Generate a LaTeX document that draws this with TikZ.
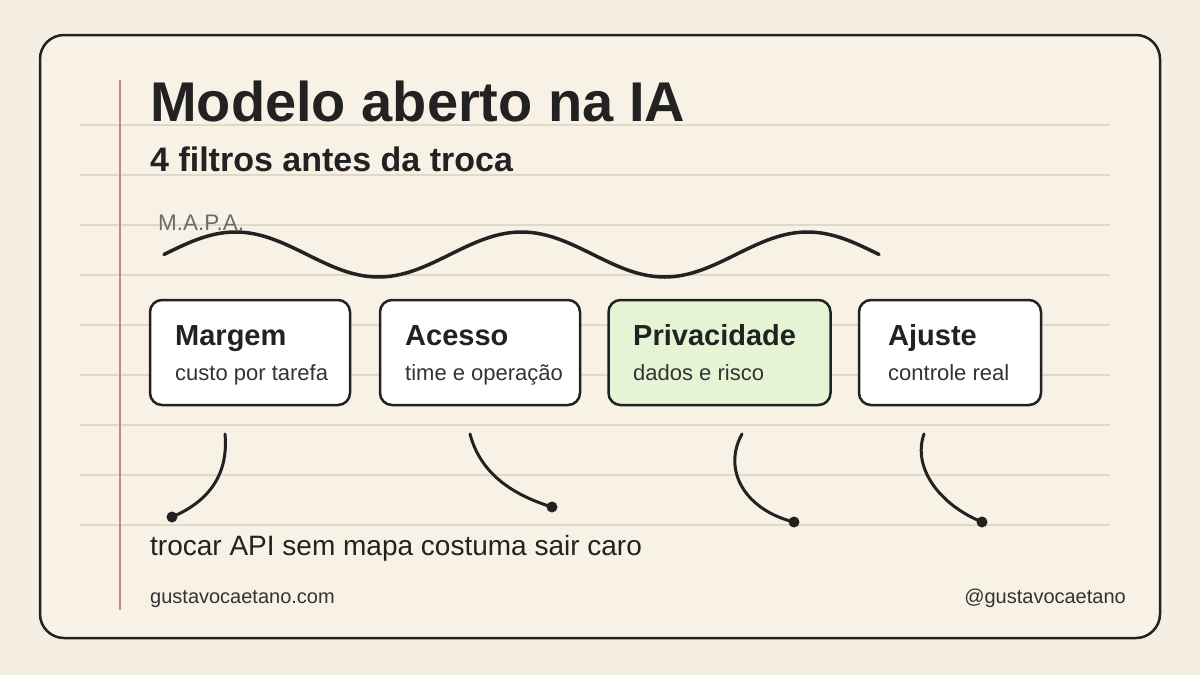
\documentclass[tikz,border=0pt]{standalone}
\usepackage{fontspec}
\setmainfont{Liberation Sans}
\usetikzlibrary{calc}
\definecolor{bgout}{HTML}{F5EEE2}
\definecolor{cardbg}{HTML}{F8F1E5}
\definecolor{ink}{HTML}{222222}
\definecolor{rulecol}{HTML}{E2D8C9}
\definecolor{margincol}{HTML}{C9897C}
\definecolor{leafgreen}{HTML}{E6F4D6}
\definecolor{subcol}{HTML}{333333}
\definecolor{mapacol}{HTML}{6A6A6A}
\begin{document}
\begin{tikzpicture}[x=1pt,y=-1pt,
 box/.style={draw=ink, line width=2.5pt, rounded corners=12pt, fill=white, minimum height=105pt, inner sep=0pt},
 ttl/.style={anchor=base west, inner sep=0pt, font=\fontsize{29}{31}\selectfont\bfseries, text=ink},
 sbt/.style={anchor=base west, inner sep=0pt, font=\fontsize{22}{24}\selectfont, text=subcol},
 link/.style={draw=ink, line width=3pt, line cap=round},
 dot/.style={circle, fill=ink, inner sep=0pt, minimum size=11pt}]
\useasboundingbox (0,0) rectangle (1200,675);
\fill[bgout] (0,0) rectangle (1200,675);
\draw[ink, line width=2.5pt, fill=cardbg, rounded corners=24pt] (40,35) rectangle (1160,638);
\foreach \y in {125,175,...,525} \draw[rulecol, line width=1.5pt] (80,\y) -- (1110,\y);
\draw[margincol, line width=1.5pt] (120,80) -- (120,610);

\node[anchor=base west, inner sep=0pt, font=\fontsize{56}{60}\selectfont\bfseries, text=ink] (title) at (150,121) {Modelo aberto na IA};
\node[anchor=base west, inner sep=0pt, font=\fontsize{34}{38}\selectfont\bfseries, text=ink] (subtitle) at (150,171) {4 filtros antes da troca};
\node[anchor=base west, inner sep=0pt, font=\fontsize{22.5}{24}\selectfont, text=mapacol] (mapa) at (158,230) {M.A.P.A.};

\draw[ink, line width=3.5pt, line cap=round] plot[domain=0:900, samples=181, smooth] ({164+\x/360*286},{254.5-22.5*sin(\x)});

\node[box, minimum width=200pt] (b1) at (250,352.5) {};
\node[box, minimum width=200pt] (b2) at (480,352.5) {};
\node[box, minimum width=222pt, fill=leafgreen] (b3) at (719.5,352.5) {};
\node[box, minimum width=182pt] (b4) at (950,352.5) {};

\node[ttl] (t1) at (175,345) {Margem};
\node[sbt] (s1) at (175,380) {custo por tarefa};
\node[ttl] (t2) at (405,345) {Acesso};
\node[sbt] (s2) at (405,380) {time e operação};
\node[ttl] (t3) at (633,345) {Privacidade};
\node[sbt] (s3) at (633,380) {dados e risco};
\node[ttl] (t4) at (888,345) {Ajuste};
\node[sbt] (s4) at (888,380) {controle real};

\coordinate (c1) at (225,434);
\coordinate (c2) at (470,434);
\coordinate (c3) at (742,434);
\coordinate (c4) at (924,434);
\node[dot] (d1) at (172,517) {};
\node[dot] (d2) at (552,507) {};
\node[dot] (d3) at (794,522) {};
\node[dot] (d4) at (982,522) {};
\draw[link] (c1) .. controls (229,478) and (205,503) .. (d1.center);
\draw[link] (c2) .. controls (480,472) and (510,494) .. (d2.center);
\draw[link] (c3) .. controls (722,470) and (745,510) .. (d3.center);
\draw[link] (c4) .. controls (912,468) and (940,505) .. (d4.center);

\node[anchor=base west, inner sep=0pt, font=\fontsize{28}{30}\selectfont, text=ink] (note) at (150,555) {trocar API sem mapa costuma sair caro};
\node[anchor=base west, inner sep=0pt, font=\fontsize{20}{22}\selectfont, text=subcol] (site) at (150,603) {gustavocaetano.com};
\node[anchor=base east, inner sep=0pt, font=\fontsize{20}{22}\selectfont, text=subcol] (handle) at (1126,603) {@gustavocaetano};
\end{tikzpicture}
\end{document}
